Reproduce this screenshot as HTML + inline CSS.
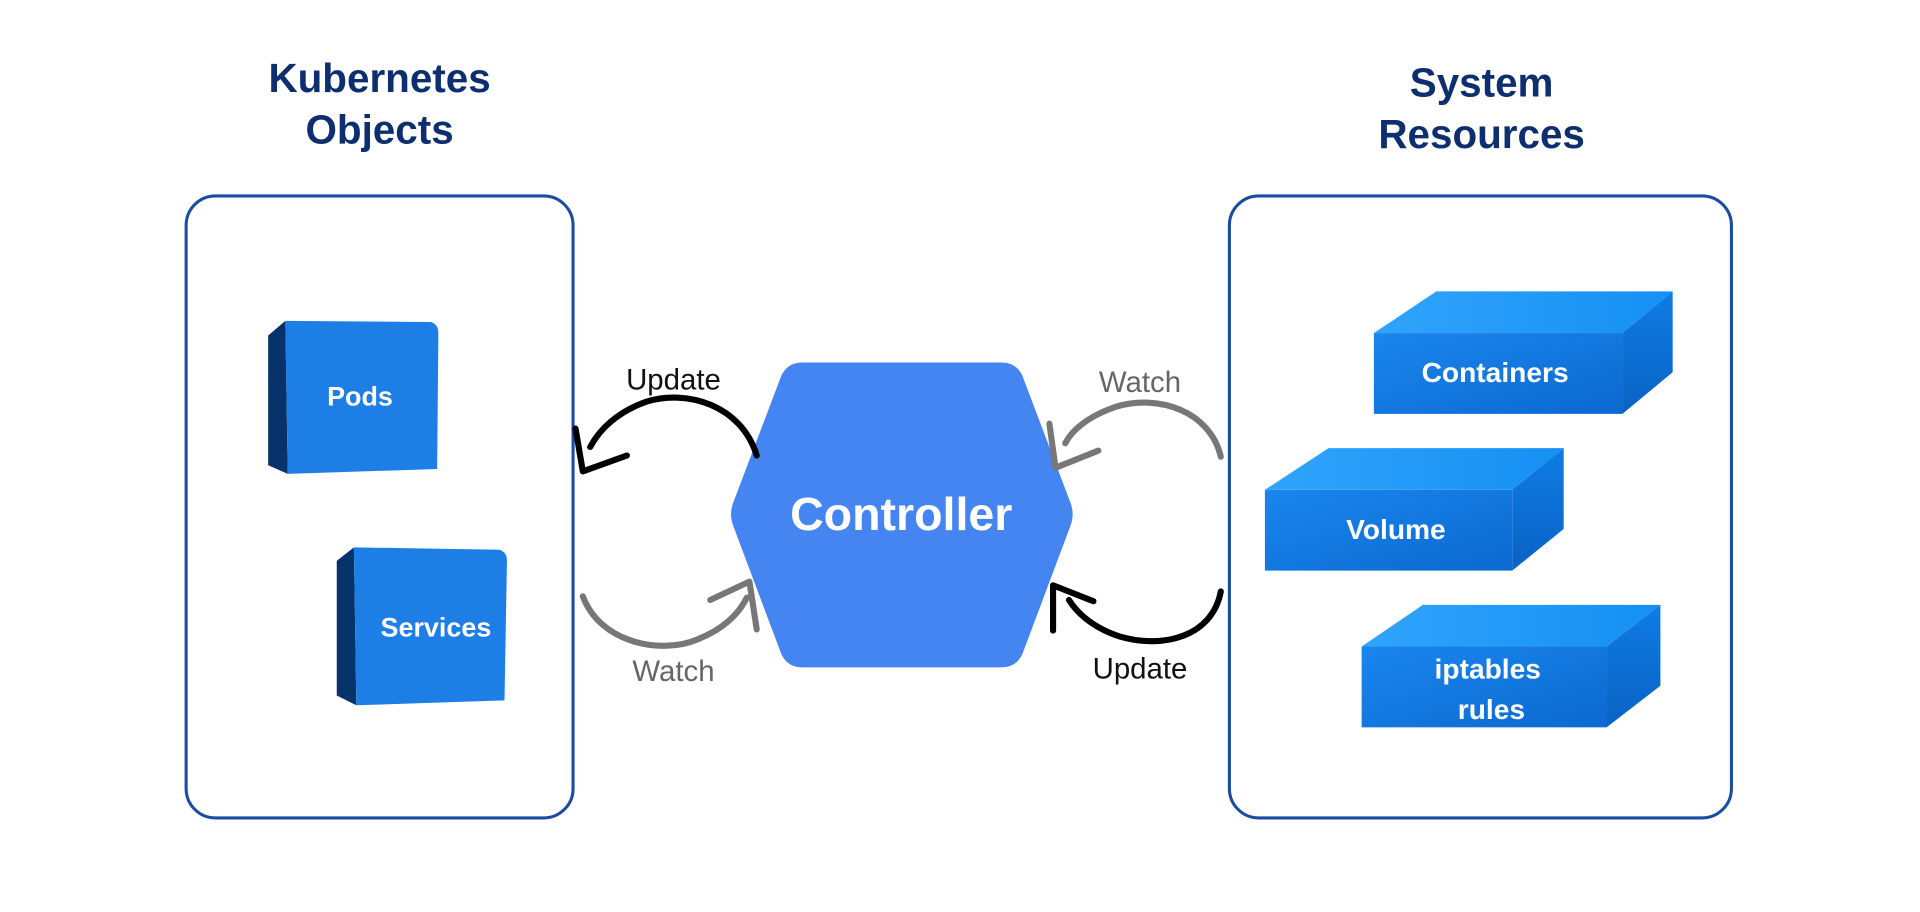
<!DOCTYPE html>
<html><head><meta charset="utf-8"><style>
html,body{margin:0;padding:0;background:#fff;}
svg{display:block;}
text{font-family:"Liberation Sans",sans-serif;}
</style></head><body>
<svg width="1920" height="912" viewBox="0 0 1568 744.8" preserveAspectRatio="none" xmlns="http://www.w3.org/2000/svg">
<defs>
<linearGradient id="fr" x1="0" y1="0" x2="1" y2="1"><stop offset="0" stop-color="#1a86ee"/><stop offset="1" stop-color="#0b69d0"/></linearGradient>
<linearGradient id="tp" x1="0" y1="0" x2="1" y2="0"><stop offset="0" stop-color="#30a4fb"/><stop offset="1" stop-color="#1590f3"/></linearGradient>
<linearGradient id="sd" x1="0" y1="0" x2="0" y2="1"><stop offset="0" stop-color="#0f7ce4"/><stop offset="1" stop-color="#0a62c4"/></linearGradient>
</defs>
<text x="310" y="75" text-anchor="middle" font-size="33" font-weight="bold" fill="#0e2f6f">Kubernetes</text>
<text x="310" y="117" text-anchor="middle" font-size="33" font-weight="bold" fill="#0e2f6f">Objects</text>
<text x="1210" y="79" text-anchor="middle" font-size="33" font-weight="bold" fill="#0e2f6f">System</text>
<text x="1210" y="121" text-anchor="middle" font-size="33" font-weight="bold" fill="#0e2f6f">Resources</text>
<rect x="152" y="160" width="316" height="508" rx="24" fill="none" stroke="#1a4ca3" stroke-width="2.5"/>
<rect x="1004" y="160" width="410" height="508" rx="24" fill="none" stroke="#1a4ca3" stroke-width="2.5"/>
<!-- Pods -->
<path d="M219,274 L233,262 L235,387 L219,380 Z" fill="#07336a"/>
<path d="M233,262 L352,263 Q358,265 358,272 L357,383 L235,387 Z" fill="#1d7ee6"/>
<text x="294" y="331" text-anchor="middle" font-size="22" font-weight="bold" fill="#fff">Pods</text>
<!-- Services -->
<path d="M275,458 L289,447 L291,576 L275,568 Z" fill="#07336a"/>
<path d="M289,447 L408,449 Q414,451 414,458 L412,572 L291,576 Z" fill="#1d7ee6"/>
<text x="356" y="520" text-anchor="middle" font-size="22" font-weight="bold" fill="#fff">Services</text>
<!-- hexagon -->
<path d="M655,296 L818,296 Q830,296 835,307 L874,410 Q878,420 874,430 L835,534 Q830,545 818,545 L655,545 Q643,545 638,534 L599,430 Q595,420 599,410 L638,307 Q643,296 655,296 Z" fill="#4585f2"/>
<text x="736" y="433" text-anchor="middle" font-size="38" font-weight="bold" fill="#fff">Controller</text>
<!-- arrows -->
<g fill="none" stroke-linecap="round" stroke-linejoin="round">
<path d="M618,372 C605,330 560,318 528,328 C505,336 490,350 482,365" stroke="#000" stroke-width="5"/>
<path d="M470,350 L476,385 L512,372" stroke="#000" stroke-width="5"/>
<path d="M476,487 C490,525 540,535 570,522 C595,512 605,498 610,488" stroke="#777" stroke-width="5"/>
<path d="M580,490 L612,475 L618,514" stroke="#777" stroke-width="5"/>
<path d="M997,373 C988,335 945,322 912,332 C888,340 875,352 870,362" stroke="#777" stroke-width="5"/>
<path d="M857,346 L862,382 L897,368" stroke="#777" stroke-width="5"/>
<path d="M997,483 C990,520 950,530 915,520 C890,512 878,498 873,490" stroke="#000" stroke-width="5"/>
<path d="M893,491 L860,478 L860,515" stroke="#000" stroke-width="5"/>
</g>
<text x="550" y="318" text-anchor="middle" font-size="24" fill="#111">Update</text>
<text x="550" y="556" text-anchor="middle" font-size="24" fill="#666">Watch</text>
<text x="931" y="320" text-anchor="middle" font-size="24" fill="#666">Watch</text>
<text x="931" y="554" text-anchor="middle" font-size="24" fill="#111">Update</text>
<!-- Containers -->
<path d="M1122,272 L1173,238 L1366,238 L1325,272 Z" fill="url(#tp)"/>
<path d="M1325,272 L1366,238 L1366,304 L1325,338 Z" fill="url(#sd)"/>
<rect x="1122" y="272" width="203" height="66" fill="url(#fr)"/>
<text x="1221" y="312" text-anchor="middle" font-size="23" font-weight="bold" fill="#fff">Containers</text>
<!-- Volume -->
<path d="M1033,400 L1085,366 L1277,366 L1235,400 Z" fill="url(#tp)"/>
<path d="M1235,400 L1277,366 L1277,432 L1235,466 Z" fill="url(#sd)"/>
<rect x="1033" y="400" width="202" height="66" fill="url(#fr)"/>
<text x="1140" y="440" text-anchor="middle" font-size="23" font-weight="bold" fill="#fff">Volume</text>
<!-- iptables -->
<path d="M1112,528 L1162,494 L1356,494 L1312,528 Z" fill="url(#tp)"/>
<path d="M1312,528 L1356,494 L1356,560 L1312,594 Z" fill="url(#sd)"/>
<rect x="1112" y="528" width="200" height="66" fill="url(#fr)"/>
<text x="1215" y="554" text-anchor="middle" font-size="23" font-weight="bold" fill="#fff">iptables</text>
<text x="1218" y="587" text-anchor="middle" font-size="23" font-weight="bold" fill="#fff">rules</text>
</svg>
</body></html>
